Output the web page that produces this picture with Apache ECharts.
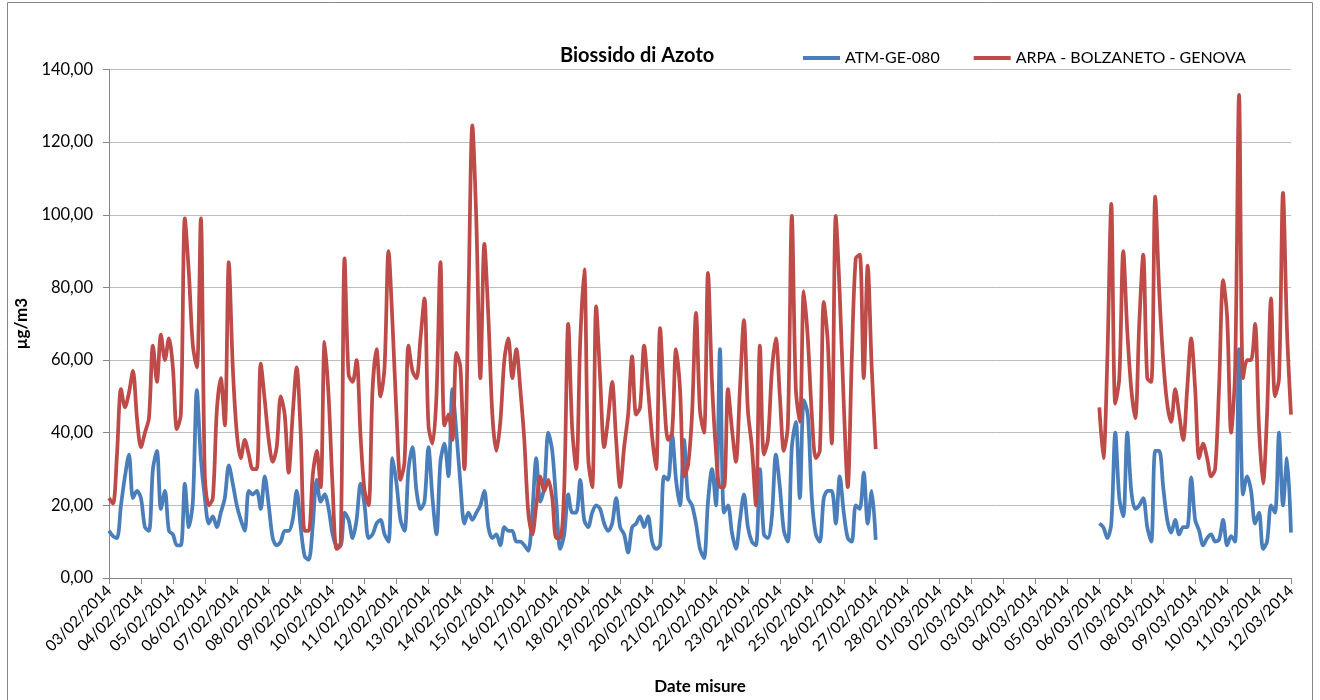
<!DOCTYPE html>
<html>
<head>
<meta charset="utf-8">
<title>Biossido di Azoto</title>
<script src="https://cdn.jsdelivr.net/npm/echarts@6/dist/echarts.min.js"></script>
<style>
  html, body { margin: 0; padding: 0; background: #fff; }
  #chart { width: 1320px; height: 700px; }
</style>
</head>
<body>
<div id="chart"></div>
<script>
// tick labels, one per day
const days = [
  '03/02/2014', '04/02/2014', '05/02/2014', '06/02/2014', '07/02/2014', '08/02/2014',
  '09/02/2014', '10/02/2014', '11/02/2014', '12/02/2014', '13/02/2014', '14/02/2014',
  '15/02/2014', '16/02/2014', '17/02/2014', '18/02/2014', '19/02/2014', '20/02/2014',
  '21/02/2014', '22/02/2014', '23/02/2014', '24/02/2014', '25/02/2014', '26/02/2014',
  '27/02/2014', '28/02/2014', '01/03/2014', '02/03/2014', '03/03/2014', '04/03/2014',
  '05/03/2014', '06/03/2014', '07/03/2014', '08/03/2014', '09/03/2014', '10/03/2014',
  '11/03/2014', '12/03/2014'
]
// readings every 3 hours
const hours = ['00:00', '03:00', '06:00', '09:00', '12:00', '15:00', '18:00', '21:00']

// ATM-GE-080 (µg/m3), one row per day
const atm = [
  13, 11.5, 11, 20, 28, 34, 22, 24,
  22, 14, 13, 30, 35, 19, 24, 13,
  12, 9, 9, 26, 14, 21, 51.7, 33,
  22, 15, 17, 14, 18, 22, 31, 26,
  20, 16, 13, 24, 23, 24, 19, 28,
  20, 11, 9, 10, 13, 13, 16, 24,
  14, 6, 5, 14, 27, 21, 23, 19,
  12, 9, 9, 18, 16, 11, 16, 26,
  20, 11, 12, 15, 16, 12, 10, 33,
  26, 16, 13, 30, 36, 24, 19, 21,
  36, 22, 12, 32, 37, 28, 52, 40,
  26, 15, 18, 16, 18, 20, 24, 14,
  11, 12, 9, 14, 13, 13, 10, 10,
  9, 7.5, 18, 33, 21, 25, 40, 35,
  21, 8, 12, 23, 18, 18, 27, 16,
  14, 18, 20, 19, 15, 13, 15, 22,
  14, 12, 7, 14, 15, 17, 14, 17,
  10, 8, 9, 28, 27, 39.7, 27, 20,
  38, 22, 20, 15, 8, 5.5, 21, 30,
  20, 63, 18, 20, 12.5, 8, 16, 23,
  14, 10, 9, 30, 12, 11, 17, 34,
  25, 13, 10, 36, 43, 22, 49, 45,
  22, 12, 10, 22, 24, 24, 15, 28,
  18, 11, 10, 20, 19, 29, 15, 24,
  10.5, null, null, null, null, null, null, null,
  null, null, null, null, null, null, null, null,
  null, null, null, null, null, null, null, null,
  null, null, null, null, null, null, null, null,
  null, null, null, null, null, null, null, null,
  null, null, null, null, null, null, null, null,
  null, null, null, null, null, null, null, null,
  15, 14, 11, 15, 40, 22, 17, 40,
  24, 19, 20, 22, 14, 10, 35, 35,
  25, 16, 12.5, 16, 12, 14, 14, 27.7,
  16, 13, 9, 11, 12, 10, 10.6, 16,
  9, 11.5, 10, 63, 23, 28, 24, 15,
  18, 8, 10, 20, 18, 40, 20, 33,
  12.5
]

// ARPA - BOLZANETO - GENOVA (µg/m3), one row per day
const arpa = [
  22, 20.5, 34, 52, 47, 51, 57, 44,
  36, 40, 44, 64, 54, 67, 60, 66,
  58, 41, 45, 99, 84, 64, 58, 99,
  28, 20, 22, 46, 55, 42, 87, 58,
  40, 33, 38, 34, 30, 30, 59, 49,
  38, 32, 36, 50, 45, 29, 45, 58,
  40, 13, 13, 28, 35, 25, 65, 50,
  25, 8, 9, 88, 56, 54, 60, 39,
  24, 20, 52, 63, 50, 58, 90, 70,
  45, 27, 32, 64, 57, 55, 66, 77,
  42, 37, 50, 87, 42, 45, 38, 62,
  58, 30, 76, 124.6, 98, 55, 92, 72,
  45, 35, 43, 60, 66, 55, 63, 52,
  38, 18, 12, 20, 28, 24, 27, 22,
  11, 11, 25, 70, 41, 30, 65, 85,
  33, 25, 74.8, 55, 36, 44, 54, 38,
  25, 36, 45, 61, 45, 47, 64, 52,
  39, 30, 68.8, 50, 38, 40, 63, 52,
  28, 31, 45, 73, 46, 40, 84, 54,
  35, 25, 25, 52, 41, 32, 52, 71,
  46, 36, 20, 64, 34, 38, 57, 66,
  50, 35, 42, 99.7, 52, 43, 79, 66,
  45, 33, 35, 76, 65, 37, 99.7, 78,
  48, 25, 60, 88, 89, 55, 86, 58,
  35.5, null, null, null, null, null, null, null,
  null, null, null, null, null, null, null, null,
  null, null, null, null, null, null, null, null,
  null, null, null, null, null, null, null, null,
  null, null, null, null, null, null, null, null,
  null, null, null, null, null, null, null, null,
  null, null, null, null, null, null, null, null,
  47, 33, 60, 103, 48, 55, 90, 68,
  52, 44, 70, 89, 55, 54, 105, 79,
  60, 48, 43, 52, 45, 38, 52, 66,
  52, 33, 37, 33, 28, 30, 53, 82,
  72, 40, 57, 133, 55, 60, 60, 70,
  41, 26, 45, 77, 50, 55, 106, 68,
  45
]

// categorie: giorno + ora, l'ultima e' la mezzanotte del 12/03
const categories = []
days.forEach((d, i) => {
  if (i < days.length - 1) hours.forEach(h => categories.push(d + ' ' + h))
  else categories.push(d + ' ' + hours[0])
})

const FONT = 'Lato, "Open Sans", sans-serif'
const chart = echarts.init(document.getElementById('chart'))

const option = {
  animation: false,
  backgroundColor: '#fff',
  title: {
    text: 'Biossido di Azoto',
    left: 555,
    top: 41,
    textStyle: { fontFamily: FONT, fontSize: 20, fontWeight: 'bold', color: '#000' }
  },
  legend: {
    left: 798,
    top: 45,
    icon: 'rect',
    itemWidth: 37,
    itemHeight: 4,
    itemGap: 34,
    textStyle: { fontFamily: FONT, fontSize: 16, color: '#000' },
    data: ['ATM-GE-080', 'ARPA - BOLZANETO - GENOVA']
  },
  grid: { left: 109, right: 29, top: 69.5, bottom: 117.5 },
  xAxis: {
    type: 'category',
    data: categories,
    boundaryGap: false,
    name: 'Date misure',
    nameLocation: 'middle',
    nameGap: 100,
    nameTextStyle: { fontFamily: FONT, fontSize: 17, fontWeight: 'bold', color: '#000' },
    axisLine: { lineStyle: { color: '#868686', width: 1 } },
    axisTick: { interval: 7, length: 6, lineStyle: { color: '#868686' } },
    axisLabel: {
      interval: 7,
      rotate: 45,
      margin: 10,
      fontFamily: FONT,
      fontSize: 15.5,
      color: '#000',
      formatter: v => v.slice(0, 10)
    },
    splitLine: { show: false }
  },
  yAxis: {
    type: 'value',
    min: 0,
    max: 140,
    interval: 20,
    name: 'µg/m3',
    nameLocation: 'middle',
    nameRotate: 90,
    nameGap: 62,
    nameTextStyle: { fontFamily: FONT, fontSize: 17, fontWeight: 'bold', color: '#000' },
    axisLine: { show: true, lineStyle: { color: '#868686', width: 1 } },
    axisTick: { show: true, length: 6, lineStyle: { color: '#868686' } },
    axisLabel: {
      margin: 16,
      fontFamily: FONT,
      fontSize: 16.5,
      color: '#000',
      formatter: v => v.toFixed(2).replace('.', ',')
    },
    splitLine: { lineStyle: { color: '#bdbdbd', width: 1 } }
  },
  series: [
    {
      name: 'ATM-GE-080',
      type: 'line',
      data: atm,
      showSymbol: false,
      smooth: 0.3,
      lineStyle: { color: '#4a7ebb', width: 3.75 },
      itemStyle: { color: '#4a7ebb' }
    },
    {
      name: 'ARPA - BOLZANETO - GENOVA',
      type: 'line',
      data: arpa,
      showSymbol: false,
      smooth: 0.3,
      lineStyle: { color: '#be4b48', width: 3.75 },
      itemStyle: { color: '#be4b48' }
    }
  ],
  graphic: [
    {
      type: 'rect',
      silent: true,
      shape: { x: 7.5, y: 2.5, width: 1305, height: 720 },
      style: { fill: null, stroke: '#868686', lineWidth: 1 }
    }
  ]
}

chart.setOption(option)
</script>
</body>
</html>
